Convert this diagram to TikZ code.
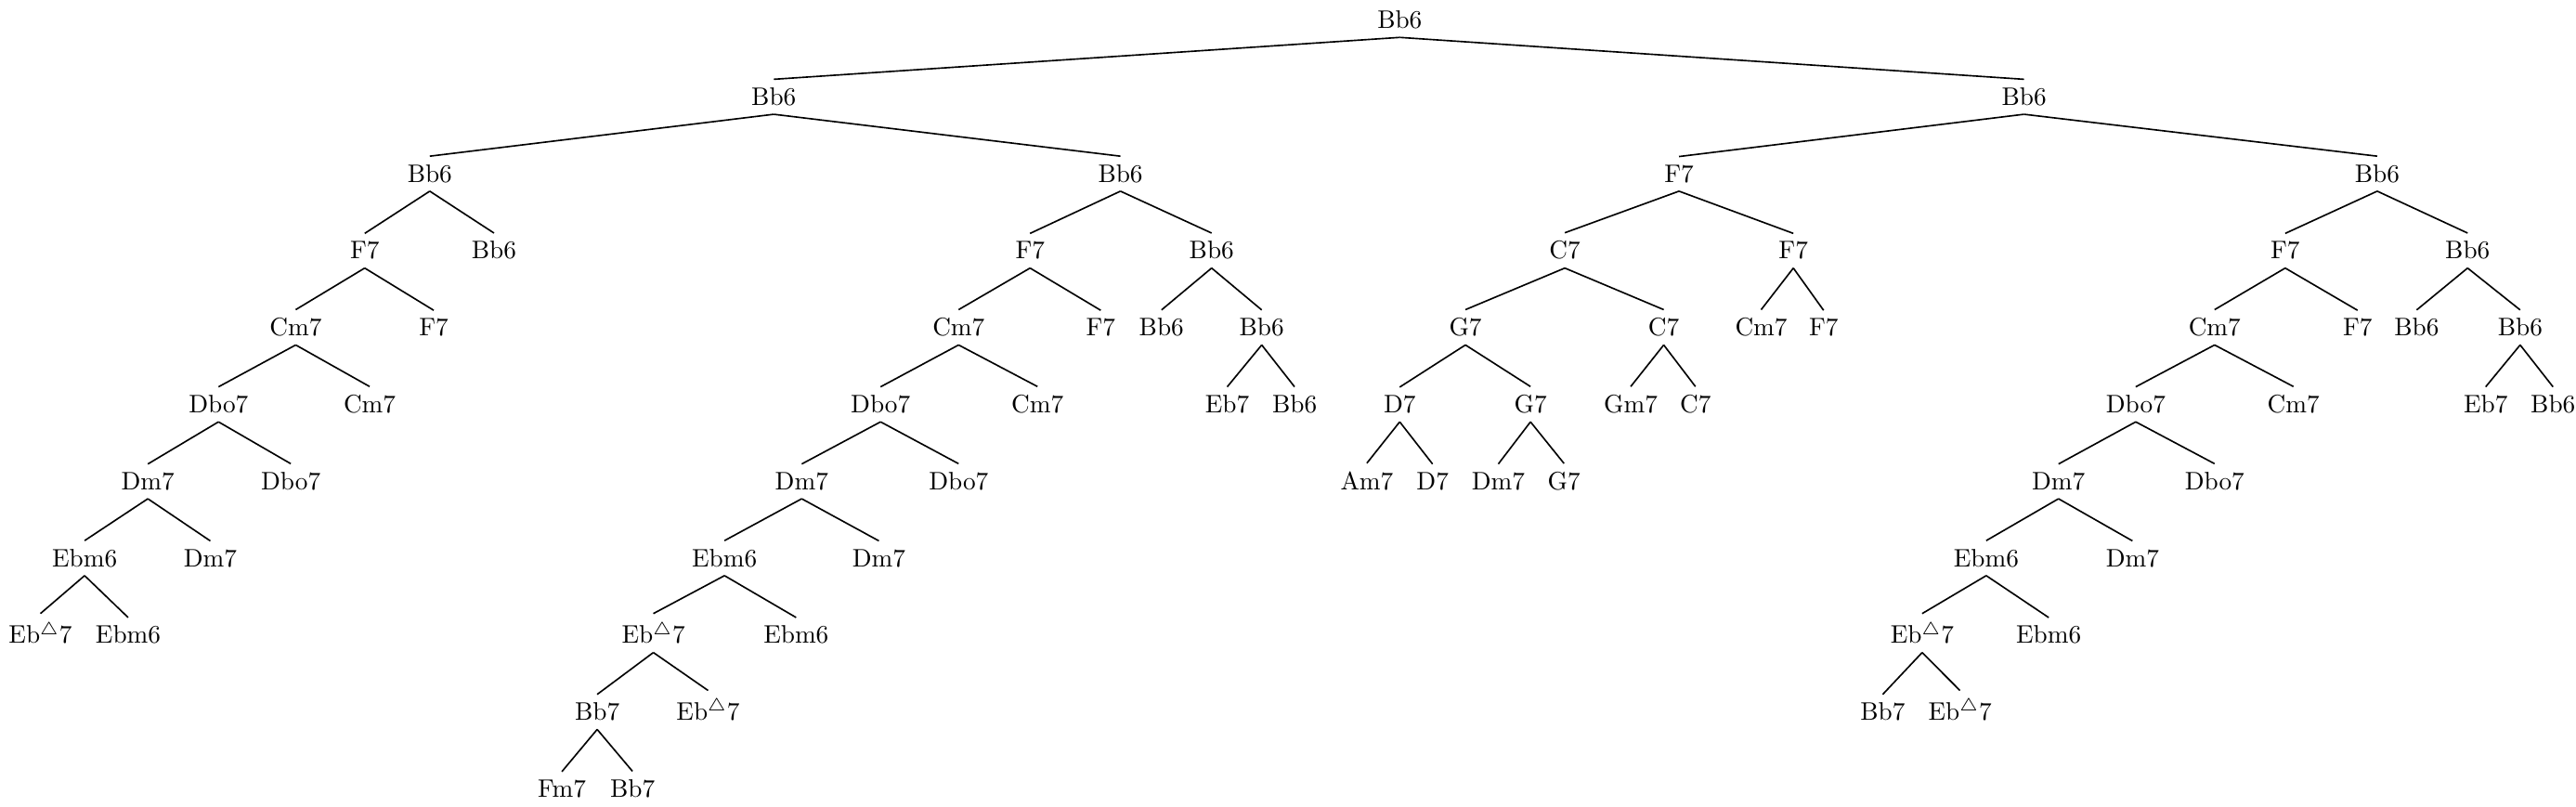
\documentclass[tikz,border=0pt]{standalone}
\usepackage{amssymb}
\newcommand{\ebmaj}{Eb$^{\triangle}$7}
\begin{document}
\begin{tikzpicture}[x=0.0228cm, y=-0.0228cm,
        chord/.style={anchor=base, inner sep=3.33pt, outer sep=0pt},
        branch/.style={line width=0.6pt}]
\useasboundingbox (0,0) rectangle (1568,491);

% chords, one row per level
\node[chord] (a1) at (852,17.3) {Bb6};
\foreach \n/\x/\t in {b1/471/Bb6, b2/1232/Bb6}
    \node[chord] (\n) at (\x,64.1) {\t};
\foreach \n/\x/\t in {c1/261.6/Bb6, c2/682/Bb6, c3/1022/F7, c4/1447/Bb6}
    \node[chord] (\n) at (\x,110.9) {\t};
\foreach \n/\x/\t in {d1/222/F7, d2/300.7/Bb6, d3/627/F7, d4/737.5/Bb6,
        d5/952.5/C7, d6/1091.6/F7, d7/1391/F7, d8/1502/Bb6}
    \node[chord] (\n) at (\x,157.7) {\t};
\foreach \n/\x/\t in {e1/180/Cm7, e2/264/F7, e3/583.5/Cm7, e4/670/F7,
        e5/707/Bb6, e6/768/Bb6, e7/892/G7, e8/1012.7/C7, e9/1072/Cm7,
        e10/1110/F7, e11/1348/Cm7, e12/1435/F7, e13/1471/Bb6, e14/1534/Bb6}
    \node[chord] (\n) at (\x,204.5) {\t};
\foreach \n/\x/\t in {f1/133/Dbo7, f2/225/Cm7, f3/536/Dbo7, f4/631.5/Cm7,
        f5/747/Eb7, f6/788/Bb6, f7/852/D7, f8/931.6/G7, f9/992.6/Gm7,
        f10/1032/C7, f11/1300/Dbo7, f12/1396/Cm7, f13/1513/Eb7, f14/1554/Bb6}
    \node[chord] (\n) at (\x,251.3) {\t};
\foreach \n/\x/\t in {g1/90/Dm7, g2/177/Dbo7, g3/488/Dm7, g4/583.5/Dbo7,
        g5/832/Am7, g6/872/D7, g7/912/Dm7, g8/952/G7, g9/1253/Dm7, g10/1348/Dbo7}
    \node[chord] (\n) at (\x,298.1) {\t};
\foreach \n/\x/\t in {h1/51.5/Ebm6, h2/128/Dm7, h3/441/Ebm6, h4/535/Dm7,
        h5/1209/Ebm6, h6/1298/Dm7}
    \node[chord] (\n) at (\x,344.9) {\t};
\foreach \n/\x/\t in {i1/24.6/\ebmaj, i2/78/Ebm6, i3/397.7/\ebmaj, i4/484.6/Ebm6,
        i5/1170/\ebmaj, i6/1247/Ebm6}
    \node[chord] (\n) at (\x,391.7) {\t};
\foreach \n/\x/\t in {j1/363.5/Bb7, j2/431/\ebmaj, j3/1146/Bb7, j4/1193/\ebmaj}
    \node[chord] (\n) at (\x,438.5) {\t};
\foreach \n/\x/\t in {k1/342/Fm7, k2/385/Bb7}
    \node[chord] (\n) at (\x,485.3) {\t};

% branches
\foreach \p/\c in {a1/b1, a1/b2, b1/c1, b1/c2, b2/c3, b2/c4,
        c1/d1, c1/d2, c2/d3, c2/d4, c3/d5, c3/d6, c4/d7, c4/d8,
        d1/e1, d1/e2, d3/e3, d3/e4, d4/e5, d4/e6, d5/e7, d5/e8,
        d6/e9, d6/e10, d7/e11, d7/e12, d8/e13, d8/e14,
        e1/f1, e1/f2, e3/f3, e3/f4, e6/f5, e6/f6, e7/f7, e7/f8,
        e8/f9, e8/f10, e11/f11, e11/f12, e14/f13, e14/f14,
        f1/g1, f1/g2, f3/g3, f3/g4, f7/g5, f7/g6, f8/g7, f8/g8,
        f11/g9, f11/g10,
        g1/h1, g1/h2, g3/h3, g3/h4, g9/h5, g9/h6,
        h1/i1, h1/i2, h3/i3, h3/i4, h5/i5, h5/i6,
        i3/j1, i3/j2, i5/j3, i5/j4, j1/k1, j1/k2}
    \draw[branch] (\p.south) -- (\c.north);

\end{tikzpicture}
\end{document}
